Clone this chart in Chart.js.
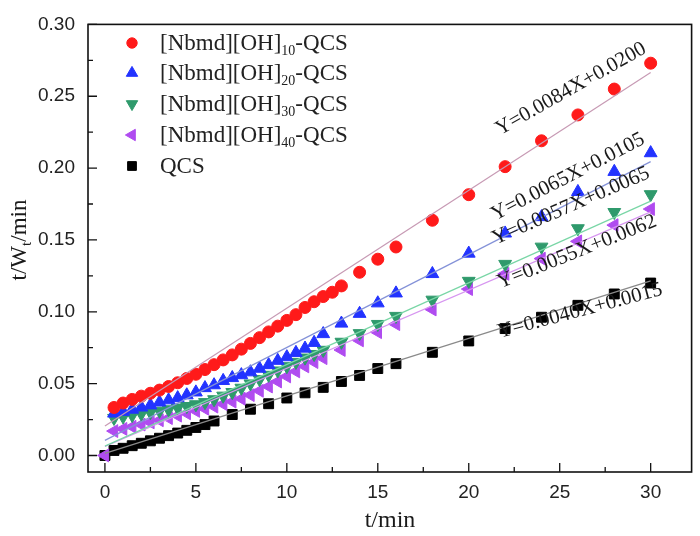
<!DOCTYPE html>
<html>
<head>
<meta charset="utf-8">
<script src="https://cdn.jsdelivr.net/npm/chart.js@4.4.1/dist/chart.umd.min.js"></script>
<style>
  html, body { margin: 0; padding: 0; background: #fff; }
  #wrap { width: 700px; height: 536px; }
</style>
</head>
<body>
<div id="wrap"><canvas id="c" width="700" height="536"></canvas></div>
<script>
// ---------- data ----------
const t10 = [0.5,1,1.5,2,2.5,3,3.5,4,4.5,5,5.5,6,6.5,7,7.5,8,8.5,9,9.5,10,10.5,11,11.5,12,12.5,13,14,15,16,18,20,22,24,26,28,30];
const y10 = [0.0334,0.0365,0.039,0.0413,0.0433,0.0455,0.048,0.0506,0.0536,0.0565,0.0598,0.0632,0.0665,0.070,0.074,0.078,0.082,0.086,0.090,0.094,0.098,0.103,0.107,0.1106,0.1136,0.118,0.1275,0.1366,0.1451,0.1637,0.1815,0.201,0.219,0.237,0.255,0.273];

const t20 = [0.5,1,1.5,2,2.5,3,3.5,4,4.5,5,5.5,6,6.5,7,7.5,8,8.5,9,9.5,10,10.5,11,11.5,12,13,14,15,16,18,20,22,24,26,28,30];
const y20 = [0.0293,0.0305,0.032,0.0335,0.035,0.037,0.0385,0.040,0.042,0.044,0.047,0.049,0.052,0.054,0.056,0.058,0.0605,0.063,0.066,0.0685,0.0715,0.0745,0.0785,0.0846,0.0919,0.0987,0.106,0.1129,0.1264,0.1406,0.1546,0.166,0.1835,0.1975,0.2105];

const t30 = [0.5,1,1.5,2,2.5,3,3.5,4,4.5,5,5.5,6,6.5,7,7.5,8,8.5,9,9.5,10,10.5,11,11.5,12,13,14,15,16,18,20,22,24,26,28,30];
const y30 = [0.026,0.027,0.028,0.029,0.030,0.031,0.032,0.0332,0.0343,0.0355,0.037,0.039,0.0415,0.044,0.047,0.050,0.053,0.056,0.059,0.062,0.065,0.068,0.0705,0.0734,0.079,0.085,0.0914,0.097,0.1083,0.1214,0.1332,0.1452,0.158,0.1693,0.1817];

const t40 = [0,0.5,1,1.5,2,2.5,3,3.5,4,4.5,5,5.5,6,6.5,7,7.5,8,8.5,9,9.5,10,10.5,11,11.5,12,13,14,15,16,18,20,22,24,26,28,30];
const y40 = [0,0.017,0.0185,0.020,0.0215,0.023,0.0245,0.026,0.0277,0.0293,0.031,0.0325,0.034,0.0358,0.0375,0.0395,0.042,0.045,0.048,0.0515,0.055,0.0585,0.062,0.065,0.0677,0.0734,0.0801,0.0858,0.0914,0.1016,0.1158,0.1264,0.137,0.149,0.1603,0.1715];

const tQ = [0,0.5,1,1.5,2,2.5,3,3.5,4,4.5,5,5.5,6,7,8,9,10,11,12,13,14,15,16,18,20,22,24,26,28,30];
const yQ = [0,0.0035,0.005,0.0068,0.0085,0.0102,0.012,0.0138,0.0156,0.0175,0.0195,0.0215,0.024,0.0285,0.0322,0.036,0.040,0.0436,0.0474,0.0515,0.0557,0.0605,0.0639,0.0718,0.0797,0.0883,0.0962,0.1045,0.1124,0.120];

// fitted straight lines, value at t = 0 and at t = 30 as drawn
const fitT     = [0, 30];
const fit10    = [0.0205, 0.2665];
const fit20    = [0.0105, 0.2045];
const fit30    = [0.0065, 0.1770];
const fit40    = [0.0062, 0.1695];
const fitQ     = [0.0015, 0.1215];

const seriesNames = ['[Nbmd][OH]|10|-QCS','[Nbmd][OH]|20|-QCS','[Nbmd][OH]|30|-QCS','[Nbmd][OH]|40|-QCS','QCS'];
const equations = ['Y=0.0084X+0.0200','Y=0.0065X+0.0105','Y=0.0057X+0.0065','Y=0.0055X+0.0062','Y=0.0040X+0.0015'];

const xTicks = [0,5,10,15,20,25,30];
const xMinor = [2.5,7.5,12.5,17.5,22.5,27.5];
const yTicks = [0,0.05,0.10,0.15,0.20,0.25,0.30];
const yMinor = [0.025,0.075,0.125,0.175,0.225,0.275];

// ---------- styles ----------
const markColors = ['#ff1a1a','#2233ff','#2f9a6c','#b04cf0','#000000'];
const fitColors  = ['#c79ab4','#8492d8','#79d6a6','#d796f0','#8a8a8a'];
const markStyles = ['circle','triangle','triangle','triangle','rect'];
const markRot    = [0,0,180,270,0];
const markRad    = [6,7.4,7.4,7.4,7];

const pts = (ts, ys) => ts.map((t,i) => ({x:t, y:ys[i]}));
const seriesData = [pts(t10,y10), pts(t20,y20), pts(t30,y30), pts(t40,y40), pts(tQ,yQ)];
const fitData = [fit10,fit20,fit30,fit40,fitQ].map(f => pts(fitT, f));

const datasets = [];
for (let i = 0; i < 5; i++) {
  datasets.push({
    type: 'scatter', data: seriesData[i], showLine: false,
    pointStyle: markStyles[i], rotation: markRot[i], pointRadius: markRad[i],
    backgroundColor: markColors[i], borderColor: markColors[i], borderWidth: 1,
    order: 10 + i
  });
}
for (let i = 0; i < 5; i++) {
  datasets.push({
    type: 'line', data: fitData[i], showLine: true, pointRadius: 0,
    borderColor: fitColors[i], borderWidth: 1.2, fill: false, tension: 0,
    order: 1
  });
}

function drawParts(ctx, parts, x, y, size, subSize, align) {
  ctx.save();
  const main = size + 'px "Liberation Serif", "Times New Roman", serif';
  const sub = subSize + 'px "Liberation Serif", "Times New Roman", serif';
  let w = 0;
  const widths = parts.map((p, k) => { ctx.font = (k % 2 === 1) ? sub : main; const m = ctx.measureText(p).width; w += m; return m; });
  let cx = align === 'center' ? x - w / 2 : x;
  ctx.textBaseline = 'middle';
  ctx.textAlign = 'left';
  parts.forEach((p, k) => {
    const isSub = k % 2 === 1;
    ctx.font = isSub ? sub : main;
    ctx.fillText(p, cx, isSub ? y + size * 0.3 : y);
    cx += widths[k];
  });
  ctx.restore();
}

const decor = {
  id: 'decor',
  afterDatasetsDraw(chart) {
    const {ctx, chartArea: a, scales: {x, y}} = chart;
    ctx.save();
    // frame
    ctx.strokeStyle = '#111';
    ctx.lineWidth = 1.6;
    ctx.strokeRect(a.left, a.top, a.right - a.left, a.bottom - a.top);
    // inward ticks
    ctx.lineWidth = 1.3;
    ctx.beginPath();
    xTicks.forEach(v => { const p = x.getPixelForValue(v); ctx.moveTo(p, a.bottom); ctx.lineTo(p, a.bottom - 9); });
    xMinor.forEach(v => { const p = x.getPixelForValue(v); ctx.moveTo(p, a.bottom); ctx.lineTo(p, a.bottom - 5); });
    yTicks.forEach(v => { const p = y.getPixelForValue(v); ctx.moveTo(a.left, p); ctx.lineTo(a.left + 9, p); });
    yMinor.forEach(v => { const p = y.getPixelForValue(v); ctx.moveTo(a.left, p); ctx.lineTo(a.left + 5, p); });
    ctx.stroke();

    // legend
    const rowY = [44, 74, 105, 136, 167];
    const symY = [43, 73, 104, 135, 166];
    for (let i = 0; i < 5; i++) {
      ctx.fillStyle = markColors[i];
      ctx.strokeStyle = markColors[i];
      ctx.lineWidth = 1;
      Chart.helpers.drawPoint(ctx, {pointStyle: markStyles[i], rotation: markRot[i], radius: markRad[i] - 0.8, borderWidth: 1}, 132, symY[i]);
      ctx.fillStyle = '#222';
      drawParts(ctx, seriesNames[i].split('|'), 160, rowY[i], 23, 14, 'left');
    }

    // equations
    const eq = [
      {x: 571, y: 89,  a: -29.5},
      {x: 568, y: 177, a: -27.3},
      {x: 571, y: 206, a: -23.5},
      {x: 577, y: 252, a: -21.8},
      {x: 580, y: 311, a: -14.8}
    ];
    ctx.fillStyle = '#1a1a1a';
    ctx.font = '21px "Liberation Serif", "Times New Roman", serif';
    ctx.textAlign = 'center';
    ctx.textBaseline = 'middle';
    eq.forEach((e, i) => {
      ctx.save();
      ctx.translate(e.x, e.y);
      ctx.rotate(e.a * Math.PI / 180);
      ctx.fillText(equations[i], 0, 0);
      ctx.restore();
    });

    // axis titles
    ctx.fillStyle = '#1a1a1a';
    ctx.save();
    ctx.translate(20, 240);
    ctx.rotate(-Math.PI / 2);
    drawParts(ctx, ['t/W', 't', '/min'], 0, 0, 23, 15, 'center');
    ctx.restore();
    drawParts(ctx, ['t/min'], 390, 521, 24, 15, 'center');
    ctx.restore();
  }
};

new Chart(document.getElementById('c'), {
  data: { datasets },
  options: {
    responsive: false,
    animation: false,
    layout: { padding: { left: 0, right: 7, top: 11, bottom: 0 } },
    plugins: { legend: { display: false }, tooltip: { enabled: false } },
    scales: {
      x: {
        type: 'linear', min: -0.93, max: 32.25,
        grid: { display: false, drawTicks: false },
        border: { display: false },
        afterBuildTicks: s => { s.ticks = xTicks.map(v => ({value: v})); },
        afterFit: s => { s.height = 64; },
        ticks: {
          padding: 9, color: '#222',
          font: { family: '"Liberation Sans", Arial, sans-serif', size: 19 },
          callback: v => String(v)
        }
      },
      y: {
        type: 'linear', min: -0.0115, max: 0.30,
        grid: { display: false, drawTicks: false },
        border: { display: false },
        afterBuildTicks: s => { s.ticks = yTicks.map(v => ({value: v})); },
        afterFit: s => { s.width = 88; },
        ticks: {
          padding: 13, color: '#222',
          font: { family: '"Liberation Sans", Arial, sans-serif', size: 19 },
          callback: v => v.toFixed(2)
        }
      }
    }
  },
  plugins: [decor]
});
</script>
</body>
</html>
